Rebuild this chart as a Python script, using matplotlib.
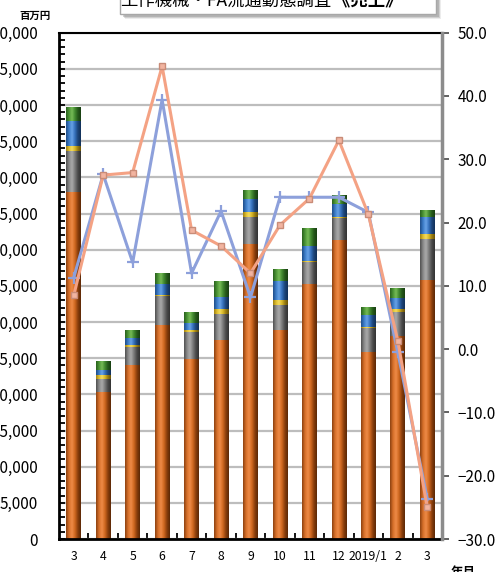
import matplotlib
matplotlib.use("Agg")
import matplotlib.pyplot as plt
import numpy as np
from matplotlib.patches import Rectangle
from matplotlib.colors import LinearSegmentedColormap
from matplotlib.ticker import MultipleLocator

plt.rcParams['font.family'] = ['Noto Sans CJK JP', 'DejaVu Sans']

# ---- data ----
months = ["3", "4", "5", "6", "7", "8", "9", "10", "11", "12", "2019/1", "2", "3"]

# stacked sales components (百万円), bottom to top
orange_vals = [47950, 20340, 24000, 29550, 24950, 27480, 40730, 28950, 35300, 41280, 25860, 28030, 35760]
gray_vals   = [5760, 1840, 2530, 4000, 3700, 3690, 3770, 3360, 2980, 3040, 3270, 3360, 5700]
yellow_vals = [690, 460, 250, 200, 200, 690, 690, 690, 200, 200, 180, 470, 690]
blue_vals   = [3450, 690, 1000, 1450, 1000, 1610, 1850, 2700, 2070, 1850, 1610, 1480, 2350]
green_vals  = [1840, 1290, 1150, 1560, 1600, 2210, 1240, 1610, 2440, 1150, 1150, 1400, 1020]

# year-on-year change (%), right axis
blue_line   = [11.3, 27.6, 13.7, 39.4, 12.0, 21.8, 8.2, 24.0, 24.0, 24.0, 21.6, -0.5, -23.7]
salmon_line = [8.5, 27.5, 27.9, 44.7, 18.8, 16.3, 12.0, 19.6, 23.8, 33.0, 21.3, 1.3, -25.0]

left_ticks = list(range(0, 70001, 5000))
right_ticks = list(range(-30, 51, 10))

# ---- figure ----
W, H = 496, 572
fig = plt.figure(figsize=(W / 100, H / 100), dpi=100)
fig.patch.set_facecolor("white")
ax = fig.add_axes([59 / W, 33 / H, 383 / W, (539 - 32.7) / H])

x = np.arange(len(months))
width = 0.5

# cylinder-like shading for each stacked component
shades = {
    "orange": ['#8A4010', '#D8702A', '#EE8C48', '#D06820', '#8A3E0C', '#5A2806'],
    "gray":   ['#4E4E4E', '#8A8A8A', '#ABABAB', '#7A7A7A', '#4A4A4A', '#333333'],
    "yellow": ['#A08010', '#E0C030', '#F4DC60', '#D8B828', '#9A7C10', '#6A5408'],
    "blue":   ['#1E4C88', '#3C7CC8', '#6AA4E8', '#3470BC', '#1C4478', '#123058'],
    "green":  ['#28601C', '#4C9436', '#78BC58', '#428A30', '#25581A', '#183E12'],
}
stack = [(orange_vals, "orange"), (gray_vals, "gray"), (yellow_vals, "yellow"),
         (blue_vals, "blue"), (green_vals, "green")]

grad = np.linspace(0, 1, 64).reshape(1, -1)
bottom = np.zeros(len(months))
for vals, name in stack:
    vals = np.asarray(vals, dtype=float)
    cmap = LinearSegmentedColormap.from_list(name, shades[name])
    bars = ax.bar(x, vals, width, bottom=bottom, color=shades[name][2],
                  edgecolor='none', zorder=2)
    for rect in bars:
        x0, y0 = rect.get_x(), rect.get_y()
        img = ax.imshow(grad, cmap=cmap, aspect='auto', interpolation='bicubic',
                        extent=[x0, x0 + rect.get_width(), y0, y0 + rect.get_height()],
                        zorder=2.1)
        img.set_clip_path(rect)
    bottom += vals

ax.set_xlim(-0.5, len(months) - 0.5)
ax.set_ylim(0, 70000)

ax.set_yticks(left_ticks)
ax.set_yticklabels([f"{v:,}" for v in left_ticks])
ax.yaxis.set_minor_locator(MultipleLocator(1000))
ax.tick_params(axis='y', which='both', direction='in', length=4, width=1.3,
               pad=15, labelsize=11, colors='black')

ax.set_xticks(x)
ax.set_xticklabels(months)
ax.set_xticks(np.arange(0.5, len(months) - 0.5, 1), minor=True)
ax.tick_params(axis='x', which='major', length=0, pad=8, labelsize=8.8)
ax.tick_params(axis='x', which='minor', direction='in', length=4, width=1.3)

ax.yaxis.grid(True, color='#BDBDBD', lw=1.6)
ax.set_axisbelow(True)

for s in ("left", "bottom"):
    ax.spines[s].set_linewidth(2)
    ax.spines[s].set_color('black')
ax.spines["top"].set_linewidth(1.5)
ax.spines["right"].set_visible(False)

# ---- percentage lines ----
ax2 = ax.twinx()
ax2.set_ylim(-30, 50)
ax2.set_yticks(right_ticks)
ax2.set_yticklabels([f"{v:.1f}".replace('-', '\u2212') for v in right_ticks])
ax2.tick_params(axis='y', direction='out', length=5, width=1.3, pad=6,
                labelsize=11, color='#555555')
for s in ("left", "top", "bottom"):
    ax2.spines[s].set_visible(False)
ax2.spines["right"].set_color('#8C8C8C')
ax2.spines["right"].set_linewidth(2.5)

ax2.plot(x, blue_line, color='#8DA0DB', lw=2.2, marker='+', ms=9, mew=1.6,
         zorder=3)
ax2.plot(x, salmon_line, color='#F4A284', lw=2.2, marker='s', ms=5,
         mfc='#F2B4A0', mec='#C98C78', mew=1, zorder=4)

# ---- title box ----
def px_rect(x0, y0, x1, y1, **kw):
    return Rectangle((x0 / W, 1 - y1 / H), (x1 - x0) / W, (y1 - y0) / H,
                     transform=fig.transFigure, figure=fig, **kw)

for off, alpha in ((5, 0.15), (4, 0.25), (3, 0.35)):
    fig.patches.append(px_rect(120 + off, -10 + off, 436 + off, 13.5 + off,
                               facecolor='#808080', edgecolor='none', alpha=alpha))
fig.patches.append(px_rect(120, -10, 436, 13.5, facecolor='white',
                           edgecolor='#A8A8A8', lw=1))

base_y = 1 - 5.6 / H
fig.text(331 / W, base_y, "工作機械・FA流通動態調査", ha='right', va='baseline',
         fontsize=12.5, color='black')
fig.text(333 / W, base_y, "《売上》", ha='left', va='baseline',
         fontsize=12.5, fontweight='bold', color='black')

fig.text(35 / W, 1 - 16 / H, "百万円", ha='center', va='center',
         fontsize=7.5, fontweight='bold')
fig.text(463 / W, 1 - 575.5 / H, "年月", ha='center', va='baseline',
         fontsize=9, fontweight='bold')

fig.savefig("out.png", dpi=100)
